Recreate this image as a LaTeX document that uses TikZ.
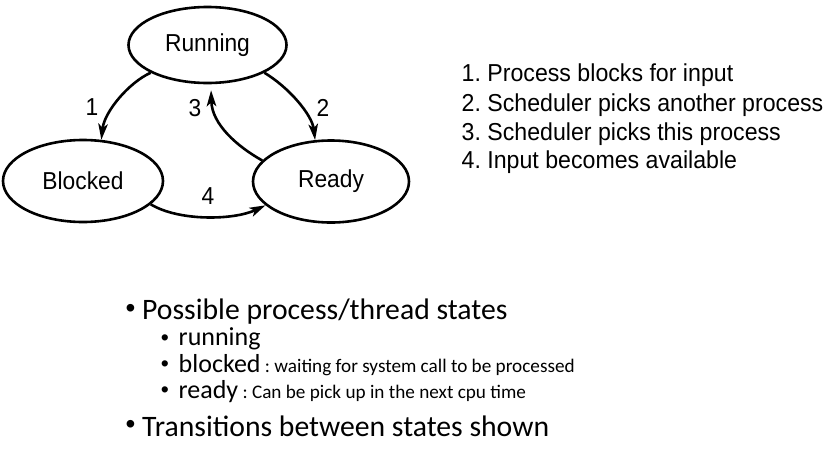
\documentclass[tikz,border=0pt]{standalone}
\usepackage{fontspec}
\setmainfont{Liberation Sans}
\newfontfamily\narrowfont[FakeStretch=0.93]{Liberation Sans}
\newfontfamily\itemfont[FakeStretch=0.945]{Liberation Sans}
\newfontfamily\calfont{Carlito}
\usetikzlibrary{shapes.geometric,arrows.meta}
\frenchspacing
\begin{document}
\begin{tikzpicture}[x=1pt,y=-1pt,
  state/.style={ellipse,draw,line width=2.6pt,inner sep=0pt,font=\narrowfont\fontsize{24.5}{28}\selectfont},
  trans/.style={line width=2.6pt,-{Stealth[length=16pt,width=9.5pt,inset=4pt]}},
  lbl/.style={inner sep=0pt,font=\narrowfont\fontsize{24.5}{28}\selectfont},
  item/.style={anchor=base west,inner sep=0pt,font=\itemfont\fontsize{24.5}{28}\selectfont},
  big/.style={anchor=base west,inner sep=0pt,font=\calfont\fontsize{29.7}{34}\selectfont},
  sub/.style={anchor=base west,inner sep=0pt,font=\calfont\fontsize{26}{30}\selectfont},
  bul/.style={inner sep=0pt,font=\fontsize{28}{30}\selectfont},
  sbul/.style={inner sep=0pt,font=\fontsize{23}{26}\selectfont}]
\useasboundingbox (0,0) rectangle (830,453);
% states
\node[state,minimum width=158pt,minimum height=76pt] (run) at (207.5,45) {Running};
\node[state,minimum width=160pt,minimum height=82pt] (blk) at (83,181) {Blocked};
\node[state,minimum width=156pt,minimum height=82pt] (rdy) at (331,181.5) {Ready};
% transitions
\draw[trans] (run.206) .. controls +(-22,10) and +(3,-28) .. (blk.66);
\draw[trans] (run.334) .. controls +(25,15) and +(-3,-25) .. (rdy.111);
\draw[trans,shorten >=6pt] (rdy.163.5) .. controls +(-25,-14) and +(1,40) .. (run.275);
\draw[trans] (blk.341) .. controls +(28,17) and +(-32,15) .. (rdy.200);
\node[lbl] (n1) at (92,107) {1};
\node[lbl] (n2) at (323,108) {2};
\node[lbl] (n3) at (195,108) {3};
\node[lbl] (n4) at (208,196) {4};
% legend
\node[item] (l1) at (461.5,81.7) {1. Process blocks for input};
\node[item] (l2) at (461.5,111) {2. Scheduler picks another process};
\node[item] (l3) at (461.5,140) {3. Scheduler picks this process};
\node[item] (l4) at (461.5,168) {4. Input becomes available};
% bullets
\node[bul] (b1) at (130.5,310.5) {•};
\node[big] (t1) at (142,319.3) {Possible process/thread states};
\node[sbul] (s1) at (165,340) {•};
\node[sub] (u1) at (178.5,345) {running};
\node[sbul] (s2) at (165,366.5) {•};
\node[sub] (u2) at (178.5,372) {blocked{\fontsize{19.2}{22}\selectfont{} : waiting for system call to be processed}};
\node[sbul] (s3) at (165,392.5) {•};
\node[sub] (u3) at (178.5,398) {ready{\fontsize{19.2}{22}\selectfont{} : Can be pick up in the next cpu time}};
\node[bul] (b2) at (130.5,426.5) {•};
\node[big] (t2) at (142,436) {Transitions between states shown};
\end{tikzpicture}
\end{document}
